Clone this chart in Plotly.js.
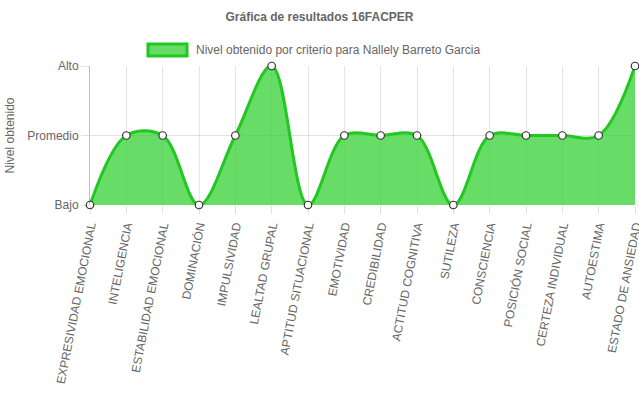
<!DOCTYPE html>
<html>
<head>
<meta charset="utf-8">
<script src="https://cdn.plot.ly/plotly-3.0.1.min.js"></script>
<style>html,body{margin:0;padding:0;background:#fff;}#chart{width:639px;height:411px;}</style>
</head>
<body>
<div id="chart"></div>
<script>
const categories = ["EXPRESIVIDAD EMOCIONAL","INTELIGENCIA","ESTABILIDAD EMOCIONAL","DOMINACIÓN","IMPULSIVIDAD","LEALTAD GRUPAL","APTITUD SITUACIONAL","EMOTIVIDAD","CREDIBILIDAD","ACTITUD COGNITIVA","SUTILEZA","CONSCIENCIA","POSICIÓN SOCIAL","CERTEZA INDIVIDUAL","AUTOESTIMA","ESTADO DE ANSIEDAD"];
const levels = [0,1,1,0,1,2,0,1,1,1,0,1,1,1,1,2];
const levelValues = [0,1,2];
const levelLabels = ["Bajo","Promedio","Alto"];
const seriesName = "Nivel obtenido por criterio para Nallely Barreto Garcia";

const lineColor = "#22c722";
const fillColor = "rgba(60,210,60,0.78)";
const font = {family: "Liberation Sans, Arial, sans-serif", size: 12, color: "#666"};
const trace = {
  x: categories, y: levels, type: "scatter", mode: "lines+markers",
  name: seriesName, showlegend: false,
  line: {shape: "spline", smoothing: 1, color: lineColor, width: 3},
  fill: "tozeroy", fillcolor: fillColor,
  marker: {size: 7.5, color: "#fff", line: {color: "#333", width: 1.2}},
  cliponaxis: false
};
// plot area: x 90..635, y 66..205
const px = v => (v - 90) / 545;
const py = v => (205 - v) / 139;
const layout = {
  width: 639, height: 411,
  margin: {l: 90, r: 4, t: 66, b: 206},
  paper_bgcolor: "#fff", plot_bgcolor: "#fff",
  font: font,
  title: {text: "<b>Gráfica de resultados 16FACPER</b>", x: 0.5, xanchor: "center", y: 0.97, yanchor: "top", font: {family: font.family, size: 12, color: "#666"}},
  showlegend: false,
  shapes: [{type: "rect", xref: "paper", yref: "paper", x0: px(148), x1: px(187), y0: py(56), y1: py(44), fillcolor: fillColor, line: {color: lineColor, width: 3}}],
  annotations: [{text: seriesName, xref: "paper", yref: "paper", x: px(194), y: py(49.5), xanchor: "left", yanchor: "middle", showarrow: false, font: {family: font.family, size: 12, color: "#666"}}],
  xaxis: {
    type: "category", range: [0, categories.length - 1],
    showgrid: true, gridcolor: "rgba(0,0,0,0.1)",
    ticks: "outside", ticklen: 8, tickcolor: "rgba(0,0,0,0.12)",
    tickangle: -79, tickfont: {family: font.family, size: 12, color: "#666"},
    showline: false, zeroline: false, automargin: false
  },
  yaxis: {
    range: [0, 2], tickvals: levelValues, ticktext: levelLabels,
    showgrid: true, gridcolor: "rgba(0,0,0,0.12)",
    ticks: "outside", ticklen: 8, tickcolor: "rgba(0,0,0,0.12)",
    showline: true, linecolor: "rgba(0,0,0,0.25)", linewidth: 1,
    zeroline: false, automargin: false,
    title: {text: "Nivel obtenido", font: {family: font.family, size: 12, color: "#666"}, standoff: 10},
    tickfont: {family: font.family, size: 12, color: "#666"}
  }
};
Plotly.newPlot("chart", [trace], layout, {displayModeBar: false, staticPlot: true});
</script>
</body>
</html>
